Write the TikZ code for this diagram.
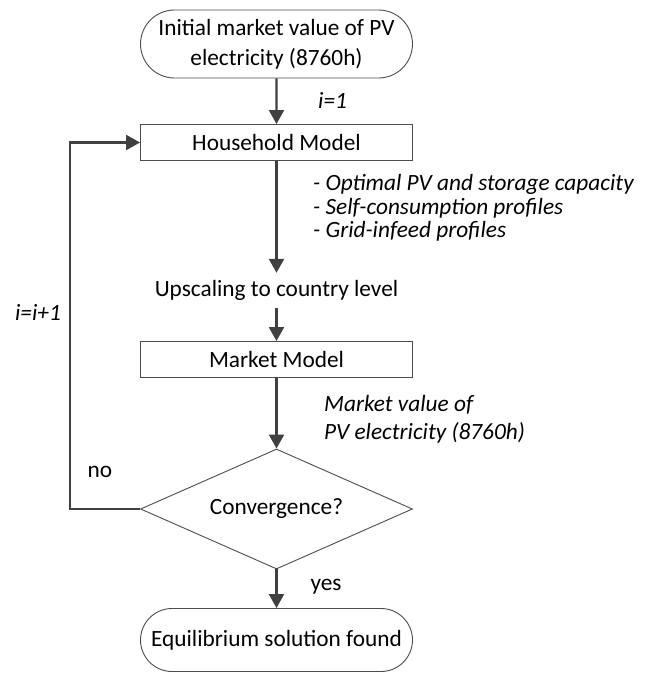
\documentclass[tikz,border=0pt]{standalone}
\usepackage{fontspec}
\setmainfont{Carlito}
\usetikzlibrary{shapes.geometric,shapes.misc,arrows.meta}
\begin{document}
\begin{tikzpicture}[x=1pt,y=-1pt, font=\fontsize{23.3}{27}\selectfont,
 box/.style={draw=black!70, line width=0.9pt, rectangle, minimum width=272pt, minimum height=36pt, inner sep=0pt},
 term/.style={draw=black!70, line width=0.9pt, rounded rectangle, minimum width=272pt, inner sep=0pt, align=center},
 dec/.style={draw=black!70, line width=0.9pt, diamond, minimum width=272pt, minimum height=120pt, inner sep=0pt, aspect=2.27},
 flow/.style={draw=black!75, line width=2.2pt, -{Triangle[length=14pt,width=15pt]}},
 lab/.style={inner sep=0pt, anchor=west, align=left}]
\useasboundingbox (0,0) rectangle (649,673);
\node[term, minimum height=68pt, font=\fontsize{23.3}{30}\selectfont] (start) at (276.5,44) {Initial market value of PV\\electricity (8760h)};
\node[box] (hh) at (276.5,142.5) {Household Model};
\node[inner sep=0pt, minimum height=35pt] (up) at (276.5,290.5) {Upscaling to country level};
\node[box] (mm) at (276.5,359.5) {Market Model};
\node[dec] (conv) at (276.5,509) {Convergence?};
\node[term, minimum height=63pt] (end) at (276.5,640) {Equilibrium solution found};
\node[lab, font=\fontsize{23.3}{27}\selectfont\itshape] (i1) at (318,100) {i=1};
\node[lab, font=\fontsize{23.3}{23.5}\selectfont\itshape] (outs) at (313,208) {- Optimal PV and storage capacity\\- Self-consumption profiles\\- Grid-infeed profiles};
\node[lab, font=\fontsize{23.3}{28}\selectfont\itshape] (mv) at (324,419) {Market value of\\PV electricity (8760h)};
\node[inner sep=0pt, font=\fontsize{23.3}{27}\selectfont\itshape] (ii) at (38,312) {i=i+1};
\node[inner sep=0pt] (no) at (100,472) {no};
\node[inner sep=0pt] (yes) at (326,587) {yes};
\coordinate (lp) at (70,509);
\draw[flow] (start) -- (hh);
\draw[flow] (hh) -- (up);
\draw[flow] (up) -- (mm);
\draw[flow] (mm) -- (conv);
\draw[flow] (conv) -- (end);
\draw[flow] (conv.west) -- (lp) |- (hh.west);
\end{tikzpicture}
\end{document}
